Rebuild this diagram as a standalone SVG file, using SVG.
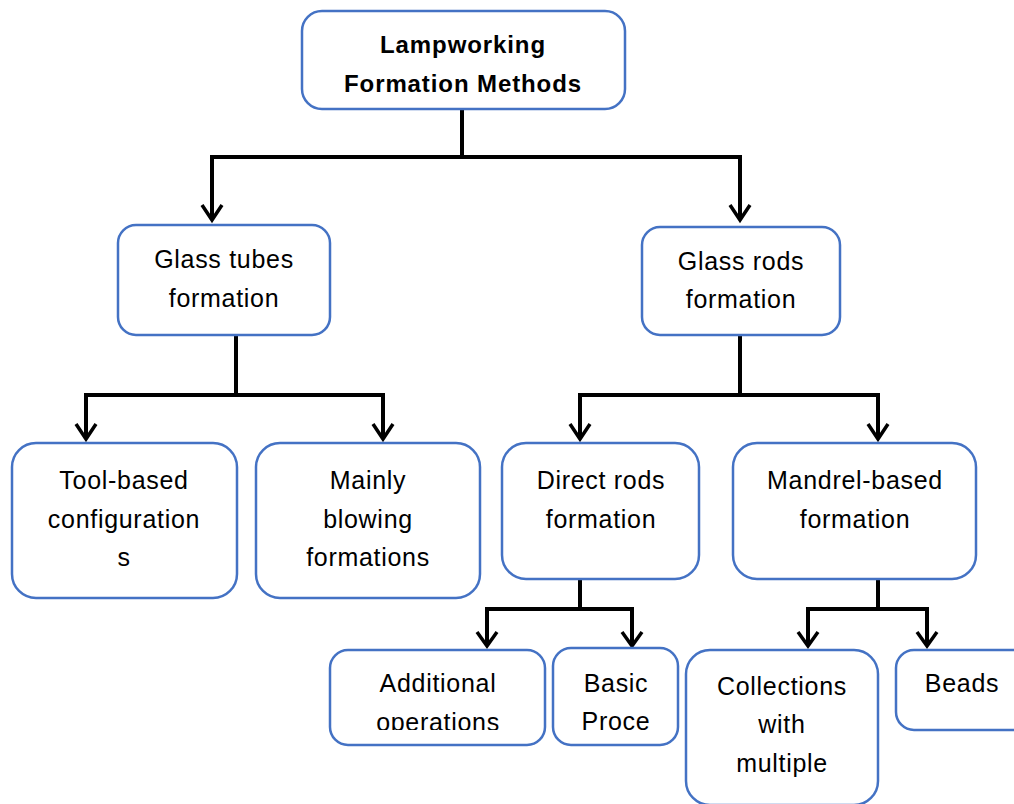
<svg xmlns="http://www.w3.org/2000/svg" width="1014" height="804" viewBox="0 0 1014 804">
<style>
.box{fill:#fff;stroke:#4472C4;stroke-width:2.5}
.t{font-family:"Liberation Sans",Arial,sans-serif;font-size:25px;fill:#000;text-anchor:middle;letter-spacing:0.7px}
.b{font-weight:bold;font-size:24px;letter-spacing:0.9px}
.c{fill:none;stroke:#000;stroke-width:4;stroke-linejoin:miter}
.a{fill:none;stroke:#000;stroke-width:3.5}
</style>
<defs>
<clipPath id="clipAdd"><rect x="330" y="650" width="216" height="80"/></clipPath>
</defs>
<rect width="1014" height="804" fill="#fff"/>
<g id="connectors">
<path class="c" d="M462,109 V157 M212,157 H740 M212,155 V220 M740,155 V220"/>
<path class="c" d="M236,335 V395 M86,395 H383 M86,393 V438 M383,393 V438"/>
<path class="c" d="M740,335 V395 M580,395 H878 M580,393 V438 M878,393 V438"/>
<path class="c" d="M580,579 V609 M487,609 H632 M487,607 V645 M632,607 V645"/>
<path class="c" d="M878,579 V609 M808,609 H927 M808,607 V645 M927,607 V645"/>
<path class="a" d="M202,205 L212,220 L222,205"/>
<path class="a" d="M730,205 L740,220 L750,205"/>
<path class="a" d="M76,424 L86,439 L96,424"/>
<path class="a" d="M373,424 L383,439 L393,424"/>
<path class="a" d="M570,424 L580,439 L590,424"/>
<path class="a" d="M868,424 L878,439 L888,424"/>
<path class="a" d="M477,632 L487,646 L497,632"/>
<path class="a" d="M622,632 L632,646 L642,632"/>
<path class="a" d="M798,632 L808,646 L818,632"/>
<path class="a" d="M917,632 L927,646 L937,632"/>
</g>
<g id="n-root">
<rect class="box" x="302" y="11" width="323" height="98" rx="20"/>
<text class="t b" x="463" y="53">Lampworking</text>
<text class="t b" x="463" y="92">Formation Methods</text>
</g>
<g id="n-tubes">
<rect class="box" x="118" y="225" width="212" height="110" rx="18"/>
<text class="t" x="224" y="268">Glass tubes</text>
<text class="t" x="224" y="307">formation</text>
</g>
<g id="n-rods">
<rect class="box" x="642" y="227" width="198" height="108" rx="18"/>
<text class="t" x="741" y="270">Glass rods</text>
<text class="t" x="741" y="308">formation</text>
</g>
<g id="n-tool">
<rect class="box" x="12" y="443" width="225" height="155" rx="24"/>
<text class="t" x="124" y="489">Tool-based</text>
<text class="t" x="124" y="528">configuration</text>
<text class="t" x="124" y="566">s</text>
</g>
<g id="n-blow">
<rect class="box" x="256" y="443" width="224" height="155" rx="24"/>
<text class="t" x="368" y="489">Mainly</text>
<text class="t" x="368" y="528">blowing</text>
<text class="t" x="368" y="566">formations</text>
</g>
<g id="n-direct">
<rect class="box" x="502" y="443" width="197" height="136" rx="24"/>
<text class="t" x="601" y="489">Direct rods</text>
<text class="t" x="601" y="528">formation</text>
</g>
<g id="n-mandrel">
<rect class="box" x="733" y="443" width="243" height="136" rx="24"/>
<text class="t" x="855" y="489">Mandrel-based</text>
<text class="t" x="855" y="528">formation</text>
</g>
<g id="n-additional">
<rect class="box" x="330" y="650" width="215" height="95" rx="18"/>
<g clip-path="url(#clipAdd)">
<text class="t" x="438" y="692">Additional</text>
<text class="t" x="438" y="731">operations</text>
</g>
</g>
<g id="n-basic">
<rect class="box" x="553" y="648" width="125" height="97" rx="18"/>
<text class="t" x="616" y="692">Basic</text>
<text class="t" x="616" y="730">Proce</text>
</g>
<g id="n-collections">
<rect class="box" x="686" y="650" width="192" height="155" rx="24"/>
<text class="t" x="782" y="695">Collections</text>
<text class="t" x="782" y="733">with</text>
<text class="t" x="782" y="772">multiple</text>
</g>
<g id="n-beads">
<rect class="box" x="896" y="650" width="150" height="80" rx="18"/>
<text class="t" x="962" y="692">Beads</text>
</g>
</svg>
